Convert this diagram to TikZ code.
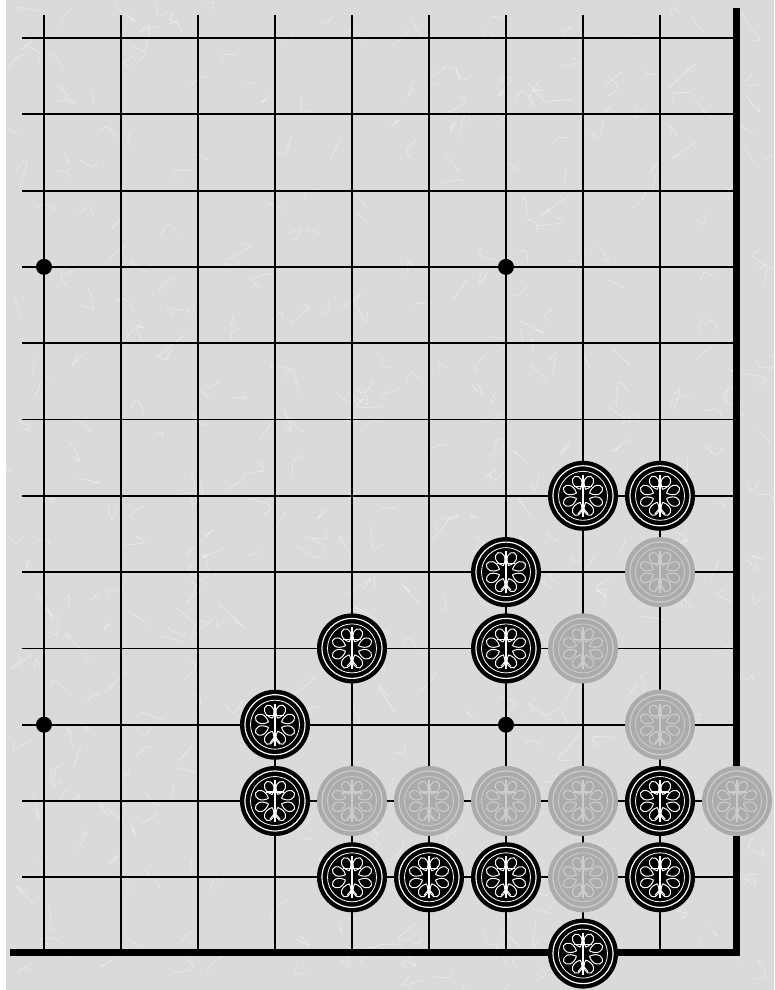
\documentclass[tikz,border=0pt]{standalone}
\usepackage{tikz}

\definecolor{paper}{HTML}{DADADA}
\definecolor{ghost}{HTML}{ABABAB}
\definecolor{ghostline}{HTML}{CDCDCD}

% flower pattern on a stone, centred on node #2
\newcommand{\rosette}[2]{%
  \begin{scope}[shift={(#2.center)}]
    \draw[#1, line width=1.2pt] (0,0) circle (30);
    \draw[#1, line width=0.8pt] (0,0) circle (24.5);
    \foreach \a in {22.5,67.5,...,337.5}
      \draw[#1, line width=1pt] (\a:7) .. controls (\a-28:15) and (\a-14:21) .. (\a:21)
        .. controls (\a+14:21) and (\a+28:15) .. (\a:7);
    \draw[#1, line width=1.5pt] (0,-21) -- (0,21);
    \draw[#1, line width=1.2pt] (-9,-9) -- (9,-9);
    \draw[#1, line width=1pt] (-5,18) -- (0,12) -- (5,18);
  \end{scope}}

\begin{document}
\begin{tikzpicture}[
    x=1pt, y=-1pt,
    gridline/.style = {line width=1.8pt},
    border/.style = {line width=7pt},
    star/.style = {circle, fill=black, minimum size=16pt, inner sep=0pt},
    blackstone/.style = {circle, fill=black, minimum size=70pt, inner sep=0pt},
    whitestone/.style = {circle, fill=ghost, minimum size=70pt, inner sep=0pt}
  ]
  \useasboundingbox (0,0) rectangle (774,990);
  \fill[paper] (6,0) rectangle (774,990);

  % paper fibres
  \pgfmathsetseed{42}
  \foreach \k in {1,...,450}
    \draw[white, opacity=0.5, line width=0.5pt]
      (10+rnd*760,5+rnd*980) .. controls +(rnd*30-15,rnd*30-15) .. +(rnd*40-20,rnd*40-20);

  % grid
  \foreach \c in {0,...,8}
    \draw[gridline] (44+\c*77,15) -- (44+\c*77,952);
  \foreach \r in {0,...,11}
    \draw[gridline] (22,38+\r*76.3) -- (736,38+\r*76.3);

  % board edges
  \draw[border] (736,8) -- (736,952) -- (10,952);

  % hoshi
  \foreach \c/\r [count=\i] in {0/3,6/3,0/9,6/9}
    \node[star] (hoshi\i) at (44+\c*77,38+\r*76.3) {};

  % black stones
  \foreach \c/\r in {7/6,8/6,6/7,6/8,4/8,3/9,3/10,4/11,5/11,6/11,8/10,8/11,7/12} {
    \node[blackstone] (b-\c-\r) at (44+\c*77,38+\r*76.3) {};
    \rosette{white}{b-\c-\r}
  }

  % white stones
  \foreach \c/\r in {8/7,7/8,8/9,4/10,5/10,6/10,7/10,9/10,7/11} {
    \node[whitestone] (w-\c-\r) at (44+\c*77,38+\r*76.3) {};
    \rosette{ghostline}{w-\c-\r}
  }
\end{tikzpicture}
\end{document}
